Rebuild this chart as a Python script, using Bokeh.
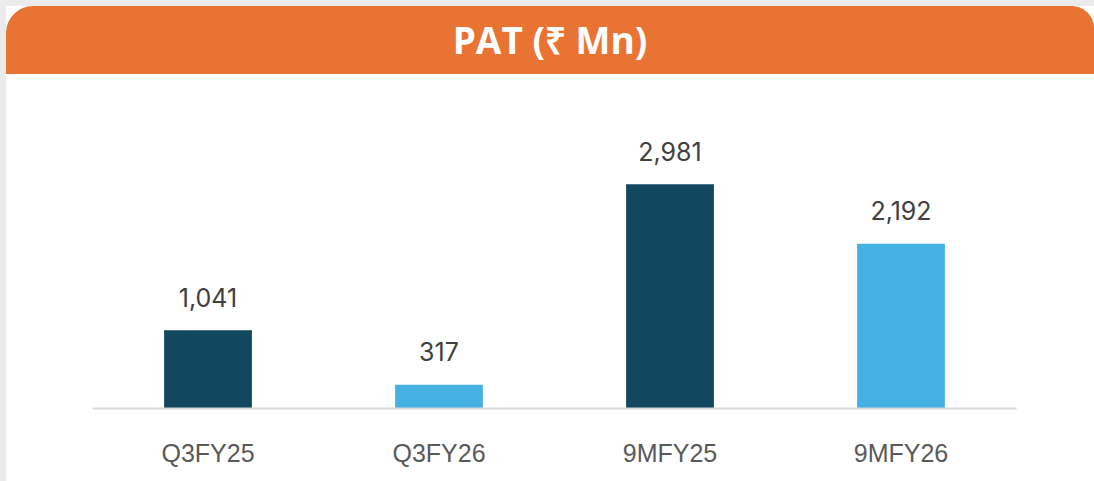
from bokeh.plotting import figure
from bokeh.models import FactorRange, Range1d, ColumnDataSource, Spacer, Div
from bokeh.layouts import column, row
from bokeh.transform import factor_cmap
from bokeh.core.properties import value
from bokeh.embed import file_html
from bokeh.resources import INLINE

# ---- data ----
title_text = "PAT (₹ Mn)"
categories = ["Q3FY25", "Q3FY26", "9MFY25", "9MFY26"]
fiscal_year = ["FY25", "FY26", "FY25", "FY26"]
pat_values = [1041, 317, 2981, 2192]

value_labels = ["{:,}".format(v) for v in pat_values]

ORANGE = "#E97333"
DARK = "#11475F"
LIGHT = "#45B1E2"
PAGE_GRAY = "#EBEBEB"

src = ColumnDataSource(dict(cat=categories, fy=fiscal_year, val=pat_values, lab=value_labels))

# ---- header ----
h = Div(text=title_text, width=1088, height=68, margin=(0, 0, 0, 0),
        styles={"background-color": ORANGE, "color": "white",
                "font-family": "'Open Sans', sans-serif", "font-weight": "bold",
                "font-size": "37px", "text-align": "center", "line-height": "68px",
                "border-radius": "27px 22px 0 0", "overflow": "hidden"})

# ---- chart ----
p = figure(width=1088, height=407, x_range=FactorRange(*categories, range_padding=0),
           y_range=Range1d(0, 4441), output_backend="svg", toolbar_location=None,
           min_border_left=86, min_border_right=78, min_border_top=0,
           min_border_bottom=73, outline_line_color=None,
           background_fill_color=None, border_fill_color=None)

p.vbar(x="cat", top="val", width=0.38, source=src, line_color=None,
       fill_color=factor_cmap("fy", [DARK, LIGHT], ["FY25", "FY26"]))
p.text(x="cat", y="val", text="lab", source=src, text_align="center",
       text_baseline="alphabetic", y_offset=-33, text_font=value("Inter"),
       text_font_size="25px", text_color="#404040")

p.yaxis.visible = False
p.grid.visible = False
p.xaxis.axis_line_color = "#D9D9D9"
p.xaxis.axis_line_width = 2
p.xaxis.major_tick_line_color = None
p.xaxis.minor_tick_line_color = None
p.xaxis.major_tick_out = 0
p.xaxis.major_tick_in = 0
p.xaxis.major_label_standoff = 30
p.xaxis.major_label_text_font = "Liberation Sans"
p.xaxis.major_label_text_font_size = "25px"
p.xaxis.major_label_text_color = "#595959"

panel = column(h, p, spacing=0, styles={"background-color": "white"})
layout = row(Spacer(width=6, height=481),
             column(Spacer(width=1088, height=6), panel, spacing=0),
             spacing=0, styles={"background-color": PAGE_GRAY})
open("out.html", "w").write(file_html(layout, INLINE))
